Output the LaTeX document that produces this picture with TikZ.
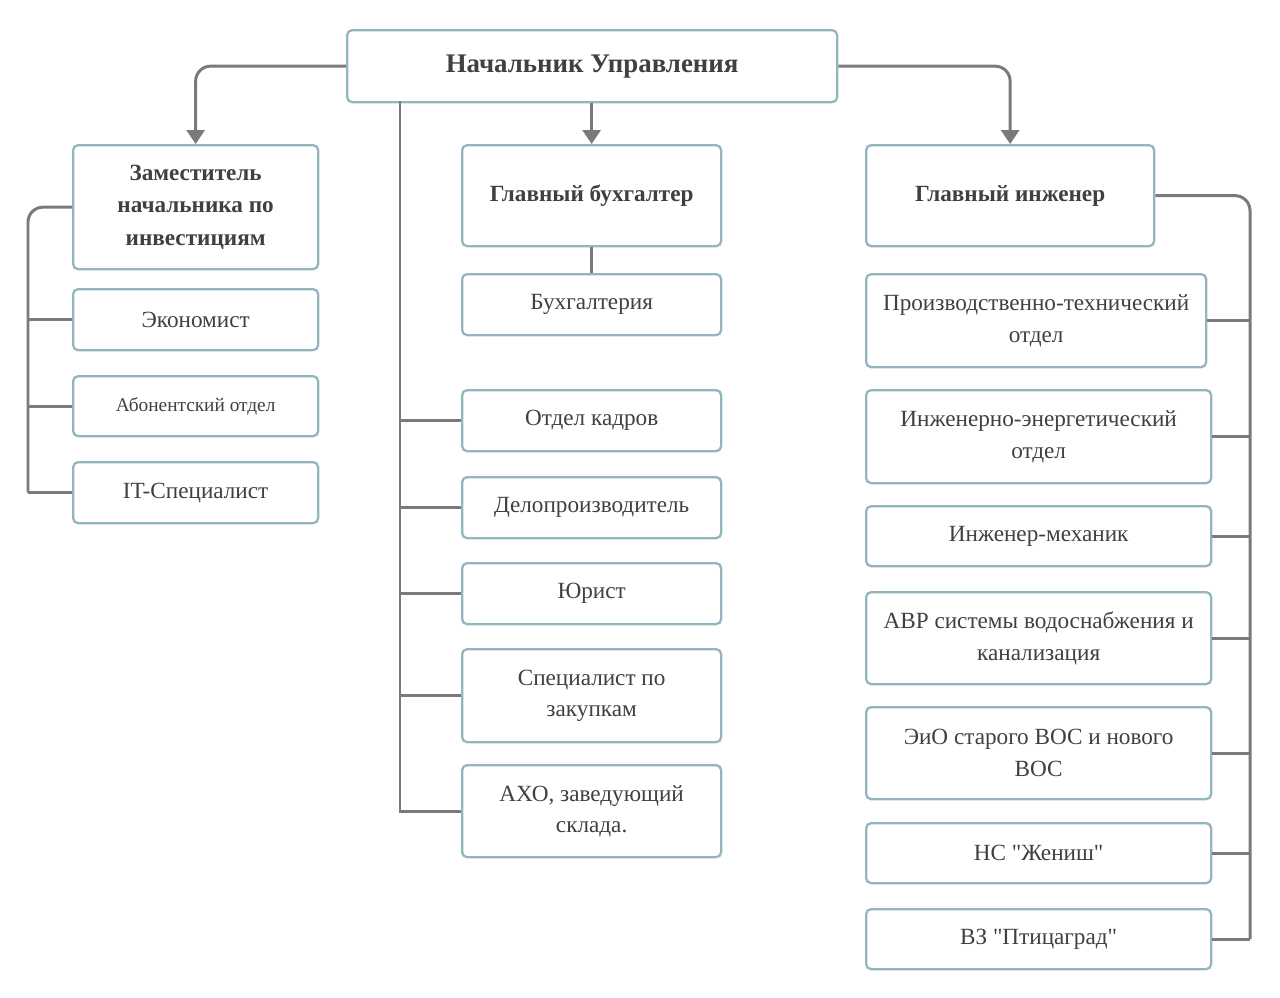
\documentclass[tikz,border=0pt]{standalone}
\usepackage{fontspec}
\setmainfont{Liberation Serif}
\usepackage{xcolor}
\usepackage{tikz}
\usetikzlibrary{arrows.meta}
\definecolor{boxBorder}{HTML}{93B5BD}
\definecolor{lineGray}{HTML}{7A7A7A}
\definecolor{textGray}{HTML}{404040}
\tikzset{
	orgbox/.style = {draw = boxBorder, line width = 1.3pt, fill = white, rounded corners = 0.1cm, below right, align = center, text = textGray, inner sep = 0pt, font = \fontsize{13.2}{18}\selectfont},
	headbox/.style = {orgbox, font = \fontsize{13.2}{18.5}\selectfont\bfseries},
	link/.style = {draw = lineGray, line width = 1.7pt},
	arrowlink/.style = {link, -{Triangle[width = 0.36cm, length = 0.28cm]}},
}
\newcommand{\orgBox}[7][orgbox]{
	\node[#1, minimum width = #5cm, minimum height = #6cm] (#2) at (#3, #4) {#7};
}

\begin{document}
\begin{tikzpicture}%

		\useasboundingbox (0,0) rectangle (25.6,-19.94);

		% head
		\orgBox[headbox]{top}{6.92}{-0.58}{9.80}{1.44}{\fontsize{15.3}{18.5}\selectfont Начальник Управления}

		% deputies
		\orgBox[headbox]{zam}{1.44}{-2.88}{4.90}{2.48}{Заместитель\\начальника по\\инвестициям}
		\orgBox[headbox]{glavbuh}{9.22}{-2.88}{5.18}{2.02}{Главный бухгалтер}
		\orgBox[headbox]{glavinzh}{17.30}{-2.88}{5.76}{2.02}{Главный инженер}

		% left column
		\orgBox{econ}{1.44}{-5.76}{4.90}{1.22}{Экономист}
		\orgBox{abon}{1.44}{-7.50}{4.90}{1.20}{\fontsize{11}{14}\selectfont Абонентский отдел}
		\orgBox{itspec}{1.44}{-9.22}{4.90}{1.22}{IT-Специалист}

		% middle column
		\orgBox{buh}{9.22}{-5.46}{5.18}{1.22}{Бухгалтерия}
		\orgBox{kadr}{9.22}{-7.78}{5.18}{1.22}{Отдел кадров}
		\orgBox{delo}{9.22}{-9.52}{5.18}{1.22}{Делопроизводитель}
		\orgBox{jur}{9.22}{-11.24}{5.18}{1.22}{Юрист}
		\orgBox{zak}{9.22}{-12.96}{5.18}{1.86}{Специалист по\\закупкам}
		\orgBox{aho}{9.22}{-15.28}{5.18}{1.84}{АХО, заведующий\\склада.}

		% right column
		\orgBox{pto}{17.30}{-5.46}{6.80}{1.86}{Производственно-технический\\отдел}
		\orgBox{ieo}{17.30}{-7.78}{6.90}{1.86}{Инженерно-энергетический\\отдел}
		\orgBox{meh}{17.30}{-10.10}{6.90}{1.20}{Инженер-механик}
		\orgBox{avr}{17.30}{-11.82}{6.90}{1.84}{АВР системы водоснабжения и\\канализация}
		\orgBox{eio}{17.30}{-14.12}{6.90}{1.84}{ЭиО старого ВОС и нового\\ВОС}
		\orgBox{ns}{17.30}{-16.44}{6.90}{1.20}{НС \textquotedbl Жениш\textquotedbl}
		\orgBox{vz}{17.30}{-18.16}{6.90}{1.20}{ВЗ \textquotedbl Птицаград\textquotedbl}

		% buses
		\coordinate (trunk) at (8.00,-2.02);
		\coordinate (lbus) at (0.56,0);
		\coordinate (rbus) at (25.00,0);

		% head to deputies
		\draw[arrowlink, rounded corners = 0.3cm] (top.west) -| (zam.north);
		\draw[arrowlink] (glavbuh.north |- top.south) -- (glavbuh.north);
		\draw[arrowlink, rounded corners = 0.3cm] (top.east) -| (glavinzh.north);
		\draw[link] (glavbuh.south) -- (buh.north);

		% middle trunk
		\draw[link] (trunk) |- (aho.west);
		\foreach \n in {kadr, delo, jur, zak}
			\draw[link] (\n.west) -- (\n.west -| trunk);

		% left bus
		\draw[link, rounded corners = 0.3cm] (zam.west) -| (lbus |- itspec.west);
		\foreach \n in {econ, abon, itspec}
			\draw[link] (\n.west) -- (\n.west -| lbus);

		% right bus
		\draw[link, rounded corners = 0.3cm] (glavinzh.east) -| (rbus |- vz.east);
		\foreach \n in {pto, ieo, meh, avr, eio, ns, vz}
			\draw[link] (\n.east) -- (\n.east -| rbus);

	\end{tikzpicture}
\end{document}
